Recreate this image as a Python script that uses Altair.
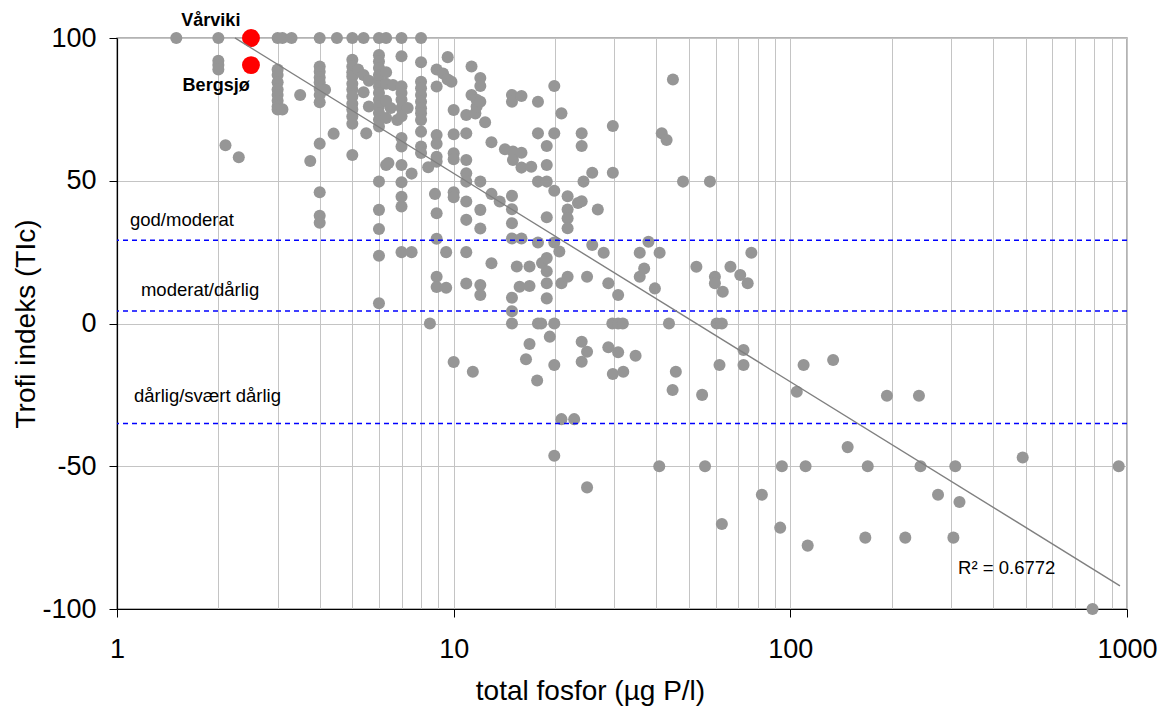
import math
import altair as alt
import pandas as pd

# ---- data (x = total fosfor µg P/l, y = Trofi indeks TIc) ----
pts_low = [(1.5, 100), (2, 100), (2, 92), (2, 90.5), (2, 89), (2.1, 62.4), (2.3, 58.2),
           (3, 100), (3.1, 100), (3.3, 100), (3, 89), (3, 87), (3, 84.5), (3, 82), (3, 80),
           (3, 78), (3, 76), (3, 75), (3.1, 75), (3.5, 80), (3.75, 56.9)]
pts_4_5 = [(4, 100), (4, 90), (4, 88.2), (4, 86.2), (4, 84.4), (4, 82.2), (4, 80), (4, 77.5),
           (4.15, 81.9), (4, 63), (4.4, 66.5), (4, 46), (4, 37.7), (4, 35.3), (4.5, 100),
           (5, 100), (5, 92.4), (5, 90), (5, 88), (5, 86.5), (5, 84), (5, 82), (5, 79.5),
           (5, 77), (5, 75), (5, 72.5), (5, 70), (5, 59),
           (5.4, 100), (5.2, 89), (5.4, 87), (5.6, 85), (5.4, 81), (5.6, 76), (5.5, 66.6)]
pts_6_7 = [(6, 100), (6, 94), (6, 91.8), (6, 89.5), (6, 87), (6, 85.4), (6, 83), (6, 80.7),
           (6, 78.4), (6, 76), (6, 73.7), (6, 71.4), (6, 69), (6, 49.7), (6, 39.8), (6, 33.1),
           (6, 23.7), (6, 7.1),
           (6.3, 100), (6.3, 88), (6.3, 84), (6.3, 78), (6.3, 72), (6.3, 55.5), (6.4, 56.2),
           (6.5, 75.5), (6.6, 83.5), (6.8, 71.3),
           (7, 100), (7, 93.6), (7, 83.1), (7, 80.7), (7, 78.4), (7, 75.5), (7, 72.6), (7, 65),
           (7, 62), (7, 55.5), (7, 49.5), (7, 44.4), (7, 41), (7, 25),
           (7.3, 75.5), (7.5, 52.5), (7.5, 25)]
pts_8_10 = [(8, 100), (8, 91.5), (8, 84.7), (8, 82.4), (8, 80), (8, 77.7), (8, 75.4), (8, 73.6),
            (8, 71.3), (8, 67.2), (8, 62), (8, 59.7), (8.4, 54.7), (8.5, 0), (8.8, 45.4),
            (8.9, 89), (8.9, 83), (8.9, 66), (8.9, 63), (8.9, 58.4), (8.9, 56.7), (8.9, 38.6),
            (8.9, 29.7), (8.9, 16.4), (8.9, 12.8),
            (9.3, 87.6), (9.5, 25), (9.5, 12.5), (9.6, 93.3), (9.6, 85.5), (9.85, 84.7),
            (10, 74.8), (10, 66.3), (10, 59.6), (10, 57.5), (10, 46), (10, 44.2), (10, -13.5)]
pts_11_14 = [(10.9, 73), (10.9, 66.6), (10.9, 57.3), (10.9, 52.6), (10.9, 49.7), (10.9, 42.7),
             (10.9, 36.3), (10.9, 25), (10.9, 14),
             (11.3, 90), (11.3, 80), (11.4, -16.9), (11.6, 73.6), (11.7, 78.4), (11.7, 76),
             (12, 86), (12, 83.2), (12, 77.7), (12, 49.7), (12, 39.8), (12, 33.3), (12, 13.5),
             (12, 10), (12.4, 70.5), (12.95, 63.5), (12.95, 45.4), (12.95, 21.1), (13.7, 42.7)]
pts_14_18 = [(14.2, 61), (14.9, 80), (14.9, 77.7), (14.9, 44.7), (14.9, 40), (14.9, 35.1),
             (14.9, 29.8), (14.9, 9), (14.9, 4.3), (14.9, 0), (15, 60.2), (15, 57.3),
             (15.4, 20), (15.7, 12.9), (15.9, 79.7), (15.9, 59.8), (15.9, 54.6), (15.9, 29.8),
             (16.4, -12.5), (16.8, 20), (16.8, 13.1), (16.8, -7.2), (17, 54.9),
             (17.7, -20), (17.8, 77.7), (17.8, 66.6), (17.8, 49.7), (17.8, 28.4), (17.8, 0),
             (18.2, 0), (18.3, 21.2)]
pts_19_24 = [(18.9, 62.2), (18.9, 55.5), (18.9, 49.7), (18.9, 37.2), (18.9, 22.9), (18.9, 18.3),
             (18.9, 14.1), (18.9, 8.8), (19.3, -4.6), (19.9, 83.2), (19.9, 66.6), (19.9, 46.5),
             (19.9, 28.4), (19.9, 0), (19.9, -14.5), (19.9, -46.3), (20.6, 25.2), (20.9, 73.6),
             (20.9, -33.5), (20.9, 14.1), (21.8, 44.6), (21.8, 39.9), (21.8, 36.9), (21.8, 33.4),
             (21.8, 16.4), (22.8, -33.5), (23.4, 42.2), (24, 66.6), (24, 62.2), (24, 42.8),
             (24.3, 49.7), (24, -6.4), (24, -13.4), (24.9, 16.4), (24.9, -9.9), (24.9, -57.4)]
pts_25_48 = [(25.8, 52.8), (25.8, 27.5), (26.8, 39.9), (27.9, 24.8), (28.8, 14.1), (28.8, -8.3),
             (29.7, 69.2), (29.7, 52.8), (29.6, 0), (29.7, -17.7), (30.8, 10), (30.8, -10.1),
             (30.8, 0), (31.8, 0), (31.9, -16.9), (34.7, -11.3), (35.7, 24.8), (35.7, 16.4),
             (36.8, 19.3), (37.9, 28.6), (39.6, 12.3), (40.9, 24.8), (40.8, -50), (41.5, 66.6),
             (42.9, 64.3), (43.6, 0), (44.7, -23.3), (44.8, 85.5), (45.7, -16.9), (48, 49.7)]
pts_50_80 = [(52.6, 19.9), (54.7, -25), (55.8, -50), (57.7, 49.7), (59.7, 16.4), (59.7, 14.1),
             (60.4, 0), (61.6, -14.5), (62.6, 0), (62.6, -70.2), (63, 11.1), (66.4, 19.9),
             (71, 17), (72.6, -9.3), (72.6, -14.5), (74.7, 14.1), (76.6, 24.8)]
pts_high = [(82.3, -60), (93.3, -71.5), (94.4, -50), (104.5, -23.9), (109.5, -14.5), (111, -50),
            (112.6, -77.8), (134, -12.8), (148, -43.3), (167, -75), (169.8, -50), (193.6, -25.3),
            (219.5, -75), (241, -25.3), (243.6, -50), (274.6, -60), (305, -75), (309, -50),
            (318, -62.5), (490, -46.9), (790, -100), (945, -50)]

red_pts = [(2.5, 100), (2.5, 90.5)]
site_names = ["Vårviki", "Bergsjø"]
site_label_x = [1.90, 1.97]
site_label_y = [106, 83.2]

class_names = ["god/moderat", "moderat/dårlig", "dårlig/svært dårlig"]
class_bounds = [29.2, 4.4, -35.0]
class_label_x = [1.093, 1.178, 1.123]
class_label_y = [36.3, 11.7, -25.4]

reg_intercept = 125.6
reg_slope = -73.0
reg_x_range = [2.24, 953]
r2_text = ["R² = 0.6772"]
r2_x = [315]
r2_y = [-85.6]

x_label_ticks = [1, 10, 100, 1000]
x_grid_values = [1, 2, 3, 4, 5, 6, 7, 8, 9, 10, 20, 30, 40, 50, 60, 70, 80, 90,
                 100, 200, 300, 400, 500, 600, 700, 800, 900, 1000]
y_ticks = [-100, -50, 0, 50, 100]

# ---- frames ----
gray = pd.DataFrame(pts_low + pts_4_5 + pts_6_7 + pts_8_10 + pts_11_14 + pts_14_18 +
                    pts_19_24 + pts_25_48 + pts_50_80 + pts_high, columns=["x", "y"])
red = pd.DataFrame(red_pts, columns=["x", "y"])
sites = pd.DataFrame({"x": site_label_x, "y": site_label_y, "label": site_names})
bounds = pd.DataFrame({"y": class_bounds})
class_lab = pd.DataFrame({"x": class_label_x, "y": class_label_y, "label": class_names})
reg = pd.DataFrame({"x": reg_x_range,
                    "y": [reg_intercept + reg_slope * math.log10(v) for v in reg_x_range]})
r2 = pd.DataFrame({"x": r2_x, "y": r2_y, "label": r2_text})

FONT = "Liberation Sans"
dec_list = "[" + ",".join(str(v) for v in x_label_ticks) + "]"
dec_test = f"indexof({dec_list}, datum.value) >= 0"

x_enc = alt.X("x:Q",
              scale=alt.Scale(type="log", domain=[1, 1000], nice=False),
              title="total fosfor (µg P/l)",
              axis=alt.Axis(values=x_grid_values,
                            labelExpr=f"({dec_test}) ? ('' + datum.value) : ''",
                            labelOverlap=False, labelBound=False, labelFlush=False,
                            labelFont=FONT, labelFontSize=27, labelColor="black",
                            labelPadding=19,
                            tickSize=8, tickColor="black",
                            tickOpacity={"condition": {"test": dec_test, "value": 1}, "value": 0},
                            domainColor="black", domainWidth=1.2,
                            grid=True, gridColor="#c4c4c4", gridWidth=1,
                            titleFont=FONT, titleFontSize=28, titleFontWeight="normal",
                            titleColor="black", titleX=473, titleY=82,
                            titleAlign="center", titleBaseline="middle"))
y_enc = alt.Y("y:Q",
              scale=alt.Scale(domain=[-100, 100], nice=False),
              title="Trofi indeks (TIc)",
              axis=alt.Axis(values=y_ticks, labelExpr="'' + datum.value",
                            labelFont=FONT, labelFontSize=27, labelColor="black",
                            labelPadding=13, tickSize=8, tickColor="black",
                            domainColor="black", domainWidth=1.2,
                            grid=True, gridColor="#c4c4c4", gridWidth=1,
                            titleFont=FONT, titleFontSize=28, titleFontWeight="normal",
                            titleColor="black", titleX=-91, titleY=285.5, titleAngle=270,
                            titleAlign="center", titleBaseline="middle"))

gray_layer = alt.Chart(gray).mark_circle(size=145, color="#969696", opacity=1).encode(x=x_enc, y=y_enc)
red_layer = alt.Chart(red).mark_circle(size=320, color="#ff0000", opacity=1).encode(x=x_enc, y=y_enc)
bound_layer = alt.Chart(bounds).mark_rule(color="#0000ff", strokeWidth=1.5,
                                          strokeDash=[5, 4]).encode(y=y_enc)
reg_layer = alt.Chart(reg).mark_line(color="#808080", strokeWidth=1.4).encode(x=x_enc, y=y_enc)
site_text = alt.Chart(sites).mark_text(font=FONT, fontSize=18, fontWeight="bold", color="black",
                                       align="center", baseline="middle").encode(
    x=x_enc, y=y_enc, text="label:N")
class_text = alt.Chart(class_lab).mark_text(font=FONT, fontSize=18.5, color="black",
                                            align="left", baseline="middle").encode(
    x=x_enc, y=y_enc, text="label:N")
r2_layer = alt.Chart(r2).mark_text(font=FONT, fontSize=18.5, color="black",
                                   align="left", baseline="middle").encode(
    x=x_enc, y=y_enc, text="label:N")

chart = alt.layer(gray_layer, red_layer, bound_layer, reg_layer,
                  site_text, class_text, r2_layer).properties(
    width=1010, height=571,
    padding={"left": 117, "top": 38, "right": 40, "bottom": 100},
    autosize=alt.AutoSizeParams(type="none"),
    background="white",
).configure_view(stroke="#9a9a9a", strokeWidth=1.5)

chart.save("out.html", embed_options={"renderer": "svg", "actions": False})
